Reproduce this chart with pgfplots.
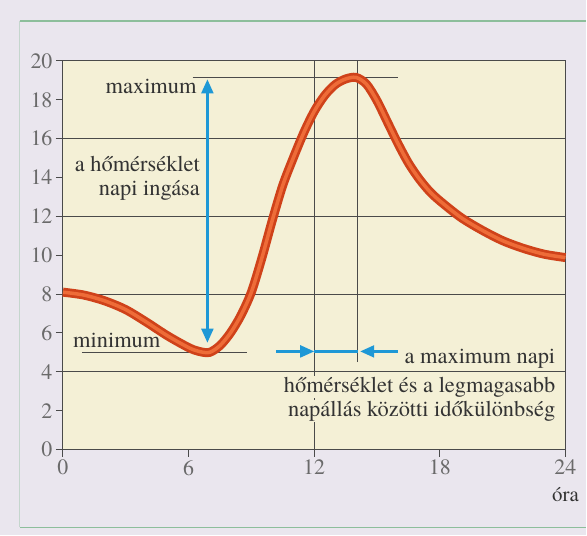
\documentclass[border=0pt]{standalone}
\usepackage{pgfplots}
\usepackage{pgfplotstable}
\pgfplotsset{compat=1.18}
\usepackage{fontspec}
\setmainfont{texgyretermes}[Extension=.otf, UprightFont=*-regular, BoldFont=*-bold, ItalicFont=*-italic, BoldItalicFont=*-bolditalic]
\usetikzlibrary{arrows.meta}
\definecolor{pagebg}{HTML}{EAE6EE}
\definecolor{plotbg}{HTML}{F4F0D6}
\definecolor{gridc}{HTML}{4A4A4A}
\definecolor{tickc}{HTML}{6A6A6A}
\definecolor{txt}{HTML}{333333}
\definecolor{blu}{HTML}{1E98D6}
\definecolor{curveD}{HTML}{CF421A}
\definecolor{curveL}{HTML}{EE6C38}
\definecolor{grn}{HTML}{8DBE9B}

\pgfplotstableread{
h t
0 8.1
1 7.95
2 7.65
3 7.2
4 6.55
5 5.85
6 5.25
6.5 5.05
7.0 5.0
7.5 5.35
8.0 6.0
8.5 6.9
9.0 8.1
9.5 9.85
10.0 11.8
10.5 13.6
11.0 15.0
11.5 16.3
12.0 17.4
12.5 18.22
13.0 18.78
13.5 19.07
14.0 19.15
14.5 18.8
15.0 17.95
15.5 16.85
16.0 15.75
16.5 14.75
17.0 13.95
17.5 13.3
18.0 12.8
19.0 11.95
20.0 11.3
21.0 10.75
22.0 10.35
23.0 10.05
24.0 9.88
}\curve

\begin{document}
\begin{tikzpicture}[x=1bp,y=1bp]
\fill[pagebg] (-63,-86) rectangle (524,450);
\draw[grn, line width=1.2bp] (-43,429) -- (524,429);
\draw[grn, line width=1.2bp] (-43,-78) -- (524,-78);
\draw[grn!40!pagebg, line width=1bp] (-43,429) -- (-43,-78);
\begin{axis}[
  at={(0,0)}, anchor=south west,
  scale only axis, width=503bp, height=389bp,
  xmin=0, xmax=24, ymin=0, ymax=20,
  axis background/.style={fill=plotbg},
  axis line style={gridc, line width=1.1bp},
  xtick={0,6,12,18,24}, ytick={0,2,...,20},
  tick align=outside, major tick length=7bp,
  tick style={gridc, line width=1bp},
  xtick pos=bottom, ytick pos=left,
  ticklabel style={font=\fontsize{22}{25}\selectfont, text=tickc},
  /pgf/number format/assume math mode=true,
  extra y ticks={4,8,12,16}, extra y tick labels={},
  extra y tick style={grid=major, major grid style={gridc, line width=1.1bp}},
  extra x ticks={12}, extra x tick labels={},
  extra x tick style={grid=major, major grid style={gridc, line width=1.1bp}},
  clip=false,
]
% reference lines
\draw[gridc, line width=1.1bp] (axis cs:6.2,19.15) -- (axis cs:16.0,19.15);
\draw[gridc, line width=1.1bp] (axis cs:0.9,5.0) -- (axis cs:8.8,5.0);
\draw[gridc, line width=1.1bp] (axis cs:14.05,4.5) -- (axis cs:14.05,20);
% curve
\addplot[curveD, line width=9bp, smooth] table[x=h,y=t] {\curve};
\addplot[curveL, line width=3.5bp, smooth] table[x=h,y=t] {\curve};
% blue arrows
\tikzset{bl/.style={blu, line width=2.2bp}}
\draw[bl, {Triangle[length=14bp,width=12bp]}-{Triangle[length=14bp,width=12bp]}]
  (axis cs:6.9,5.5) -- (axis cs:6.9,19.05);
\draw[bl, -{Triangle[length=14bp,width=12bp]}] (axis cs:10.2,5.05) -- (axis cs:12.0,5.05);
\draw[bl] (axis cs:12.0,5.05) -- (axis cs:14.1,5.05);
\draw[bl, -{Triangle[length=14bp,width=12bp]}] (axis cs:16.0,5.05) -- (axis cs:14.2,5.05);
% texts
\tikzset{ann/.style={font=\fontsize{22.5}{26}\selectfont, text=txt, inner sep=0pt}}
\node[ann, anchor=base east] at (axis cs:6.39,18.3) {maximum};
\node[ann, anchor=base east] at (axis cs:6.55,14.29) {a hőmérséklet};
\node[ann, anchor=base east] at (axis cs:6.55,13.06) {napi ingása};
\node[ann, anchor=base west] at (axis cs:0.48,5.24) {minimum};
\node[ann, anchor=base east] at (axis cs:23.52,4.42) {a maximum napi};
\node[ann, anchor=base east, fill=plotbg, inner sep=1bp] at (axis cs:23.57,2.93) {hőmérséklet és a legmagasabb};
\node[ann, anchor=base east, fill=plotbg, inner sep=1bp] at (axis cs:23.57,1.70) {napállás közötti időkülönbség};
\node[font=\fontsize{21}{24}\selectfont, text=txt, anchor=base] at (axis cs:24,0) [yshift=-52bp] {óra};
\end{axis}
\end{tikzpicture}
\end{document}
